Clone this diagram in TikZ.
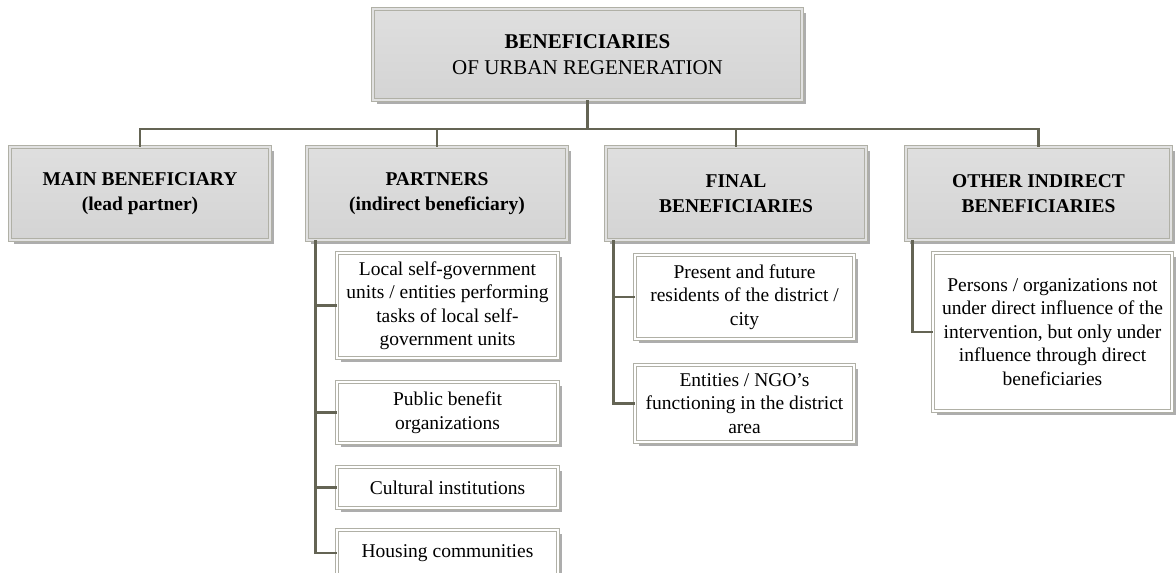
\documentclass[tikz,border=0pt]{standalone}
\usepackage{fontspec}
\setmainfont{Liberation Serif}
\usetikzlibrary{shadows}

\definecolor{linkgray}{RGB}{100,100,84}
\definecolor{boxedge}{RGB}{176,176,166}
\definecolor{headfill}{RGB}{212,212,212}

\begin{document}
\begin{tikzpicture}[x=1pt, y=-1pt,
    every node/.style={align=center, inner sep=2pt},
    boxbase/.style={draw=boxedge, line width=0.9pt, double distance=1.4pt,
        drop shadow={shadow xshift=3.5pt, shadow yshift=-3.5pt, fill=gray!80, opacity=.8}},
    topbox/.style={boxbase, double=headfill!70!white, top color=headfill!75!white, bottom color=headfill,
        minimum width=429pt, minimum height=91pt, font=\fontsize{21}{25.5}\selectfont},
    headbox/.style={boxbase, double=headfill!70!white, top color=headfill!75!white, bottom color=headfill,
        minimum width=260pt, minimum height=93pt, font=\fontsize{19.5}{25}\selectfont\bfseries},
    itembox/.style={boxbase, double=white, fill=white, font=\fontsize{19.5}{23.5}\selectfont},
    link/.style={draw=linkgray, line width=2.2pt}]
    \useasboundingbox (0,0) rectangle (1176,573);

    % root
    \node[topbox] (root) at (587.5,54.5) {\textbf{BENEFICIARIES}\\OF URBAN REGENERATION};

    % second level
    \node[headbox] (main) at (140,193.5) {MAIN BENEFICIARY\\(lead partner)};
    \node[headbox] (partners) at (437,193.5) {PARTNERS\\(indirect beneficiary)};
    \node[headbox] (final) at (736,193.5) {FINAL\\BENEFICIARIES};
    \node[headbox, minimum width=265pt] (other) at (1038.5,193.5) {OTHER INDIRECT\\BENEFICIARIES};

    % partners
    \node[itembox, minimum width=221pt, minimum height=105pt] (localgov) at (447.5,305.5)
        {Local self-government\\units / entities performing\\tasks of local self-\\government units};
    \node[itembox, minimum width=221pt, minimum height=61pt] (publicben) at (447.5,412.5)
        {Public benefit\\organizations};
    \node[itembox, minimum width=221pt, minimum height=41pt] (cultural) at (447.5,487.5)
        {Cultural institutions};
    \node[itembox, minimum width=221pt, minimum height=46pt] (housing) at (447.5,553)
        {Housing communities};

    % final beneficiaries
    \node[itembox, minimum width=219pt, minimum height=84pt] (residents) at (744.5,297)
        {Present and future\\residents of the district /\\city};
    \node[itembox, minimum width=219pt, minimum height=77pt] (ngos) at (744.5,403.5)
        {Entities / NGO’s\\functioning in the district\\area};

    % other indirect
    \node[itembox, minimum width=239pt, minimum height=158pt] (persons) at (1052.5,332)
        {Persons / organizations not\\under direct influence of the\\intervention, but only under\\influence through direct\\beneficiaries};

    % connectors
    \coordinate (bus) at (587.5,129);
    \draw[link] (root.south) -- (bus);
    \foreach \h in {main, partners, final, other}
        \draw[link] (bus) -| (\h.north);

    \foreach \s in {localgov, publicben, cultural, housing}
        \draw[link] ([xshift=9pt]partners.south west) |- (\s.west);
    \foreach \s in {residents, ngos}
        \draw[link] ([xshift=8pt]final.south west) |- (\s.west);
    \draw[link] ([xshift=7pt]other.south west) |- (persons.west);
\end{tikzpicture}
\end{document}
